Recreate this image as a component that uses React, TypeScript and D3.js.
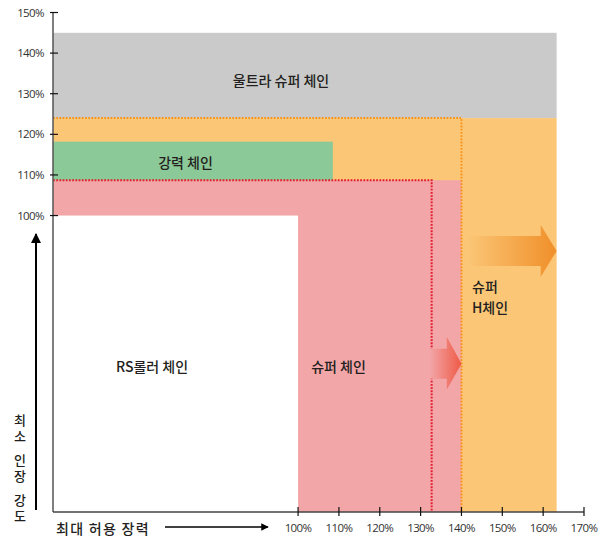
import React from "react";
import * as d3 from "d3";

const W = 606;
const H = 542;

// Regions (x: max allowable tension %, y: min tensile strength %)
const chainNames = ["울트라 슈퍼 체인", "슈퍼 H체인", "슈퍼 체인", "강력 체인", "RS롤러 체인"];
const xStart = [40, 40, 40, 40, 40];
const xEnd = [163.3, 163.3, 140, 108.5, 100];
const yLow = [124, 27, 27, 108.7, 27];
const yHigh = [145, 124, 108.7, 118.2, 100];
const fills = ["#c9cac9", "#fbc777", "#f3a6a8", "#8cc998", "#ffffff"];

// Dotted boundary lines: [horizontal level, vertical position]
const redBoundary = { y: 108.7, x: 132.7 };
const orangeBoundary = { y: 124, x: 140 };

const xTicks = [100, 110, 120, 130, 140, 150, 160, 170];
const yTicks = [100, 110, 120, 130, 140, 150];
const yTitleWords = ["최소", "인장", "강도"];
const yTitleTops = [414, 454, 494];

export default function App() {
  const x = d3.scaleLinear().domain([40, 170]).range([53, 584]);
  const y = d3.scaleLinear().domain([27, 150]).range([512, 12.5]);

  const fontTick = "'Open Sans', 'Noto Sans', sans-serif";
  const fontKo = "'Noto Sans CJK KR', 'Noto Sans', sans-serif";

  // big arrow geometry (from 140% to chart right edge)
  const bx0 = x(141.2), bx1 = x(163.3), bHead = x(159.4), by = y(91.3);
  const bigArrow = `M${bx0},${by - 15} L${bHead},${by - 15} L${bHead},${by - 26} L${bx1},${by} L${bHead},${by + 26} L${bHead},${by + 15} L${bx0},${by + 15} Z`;
  const sx0 = x(132.2), sx1 = x(140), sHead = x(136.4), sy = y(63.5);
  const smallArrow = `M${sx0},${sy - 15} L${sHead},${sy - 15} L${sHead},${sy - 27} L${sx1},${sy} L${sHead},${sy + 26} L${sHead},${sy + 15} L${sx0},${sy + 15} Z`;

  return (
    <svg width={W} height={H} style={{ position: "absolute", left: 0, top: 0, background: "#fff" }}>
      <defs>
        <linearGradient id="bigGrad" x1="0" x2="1" y1="0" y2="0">
          <stop offset="0" stopColor="#fbc777" />
          <stop offset="1" stopColor="#f08f2a" />
        </linearGradient>
        <linearGradient id="smallGrad" x1="0" x2="1" y1="0" y2="0">
          <stop offset="0" stopColor="#f3a6a8" />
          <stop offset="1" stopColor="#ee5a46" />
        </linearGradient>
        <marker id="arrowHead" viewBox="0 0 10 10" refX="9" refY="5" markerWidth="5" markerHeight="5" orient="auto">
          <path d="M0,0 L10,5 L0,10 Z" fill="#000" />
        </marker>
      </defs>

      {chainNames.map((n, i) => (
        <rect
          key={n}
          x={x(xStart[i])}
          y={y(yHigh[i])}
          width={x(xEnd[i]) - x(xStart[i])}
          height={y(yLow[i]) - y(yHigh[i])}
          fill={fills[i]}
        />
      ))}

      {/* dotted boundaries */}
      <path
        d={`M${x(40)},${y(orangeBoundary.y)} H${x(orangeBoundary.x)} V${y(27)}`}
        fill="none"
        stroke="#f7941d"
        strokeWidth={2}
        strokeDasharray="1.8 1.4"
      />
      <path
        d={`M${x(40)},${y(redBoundary.y)} H${x(redBoundary.x)} V${y(27)}`}
        fill="none"
        stroke="#e31b2f"
        strokeWidth={2}
        strokeDasharray="1.8 1.4"
      />

      <path d={bigArrow} fill="url(#bigGrad)" />
      <path d={smallArrow} fill="url(#smallGrad)" />

      {/* labels */}
      <g fontFamily={fontKo} fontSize={14} fontWeight={500} fill="#231f20">
        <text x={281} y={86} textAnchor="middle">{chainNames[0]}</text>
        <text x={185.5} y={168} textAnchor="middle">{chainNames[3]}</text>
        <text x={152} y={372} textAnchor="middle">{chainNames[4]}</text>
        <text x={338.5} y={372} textAnchor="middle">{chainNames[2]}</text>
        <text x={472} y={292}>슈퍼</text>
        <text x={472} y={313}>H체인</text>
      </g>

      {/* y axis */}
      <line x1={53} x2={53} y1={y(150)} y2={y(27)} stroke="#555" strokeWidth={1.5} />
      {yTicks.map((t) => (
        <g key={t}>
          <line x1={50} x2={58} y1={y(t)} y2={y(t)} stroke="#111" strokeWidth={1.2} />
          <text x={44} y={y(t) + 4} textAnchor="end" fontFamily={fontTick} fontSize={11.5} letterSpacing={-0.6} fill="#333">
            {t}%
          </text>
        </g>
      ))}

      {/* x axis */}
      <line x1={53} x2={584} y1={512} y2={512} stroke="#444" strokeWidth={1.5} />
      {xTicks.map((t) => (
        <g key={t}>
          <line x1={x(t)} x2={x(t)} y1={507} y2={516} stroke="#111" strokeWidth={1.2} />
          <text x={x(t)} y={532} textAnchor="middle" fontFamily={fontTick} fontSize={11.5} letterSpacing={-0.6} fill="#333">
            {t}%
          </text>
        </g>
      ))}

      {/* axis titles */}
      <g fontFamily={fontKo} fontWeight={500} fill="#231f20">
        {yTitleWords.map((w, i) => (
          <text
            key={w}
            x={20}
            y={yTitleTops[i]}
            fontSize={13}
            letterSpacing={3}
            style={{ writingMode: "vertical-rl", textOrientation: "upright" } as any}
          >
            {w}
          </text>
        ))}
        <text x={103} y={534} fontSize={14} letterSpacing={1.3} textAnchor="middle">최대 허용 장력</text>
      </g>
      <line x1={36} y1={510} x2={36} y2={234} stroke="#000" strokeWidth={2} markerEnd="url(#arrowHead)" />
      <line x1={165} y1={527} x2={268} y2={527} stroke="#000" strokeWidth={1.5} markerEnd="url(#arrowHead)" />
    </svg>
  );
}
